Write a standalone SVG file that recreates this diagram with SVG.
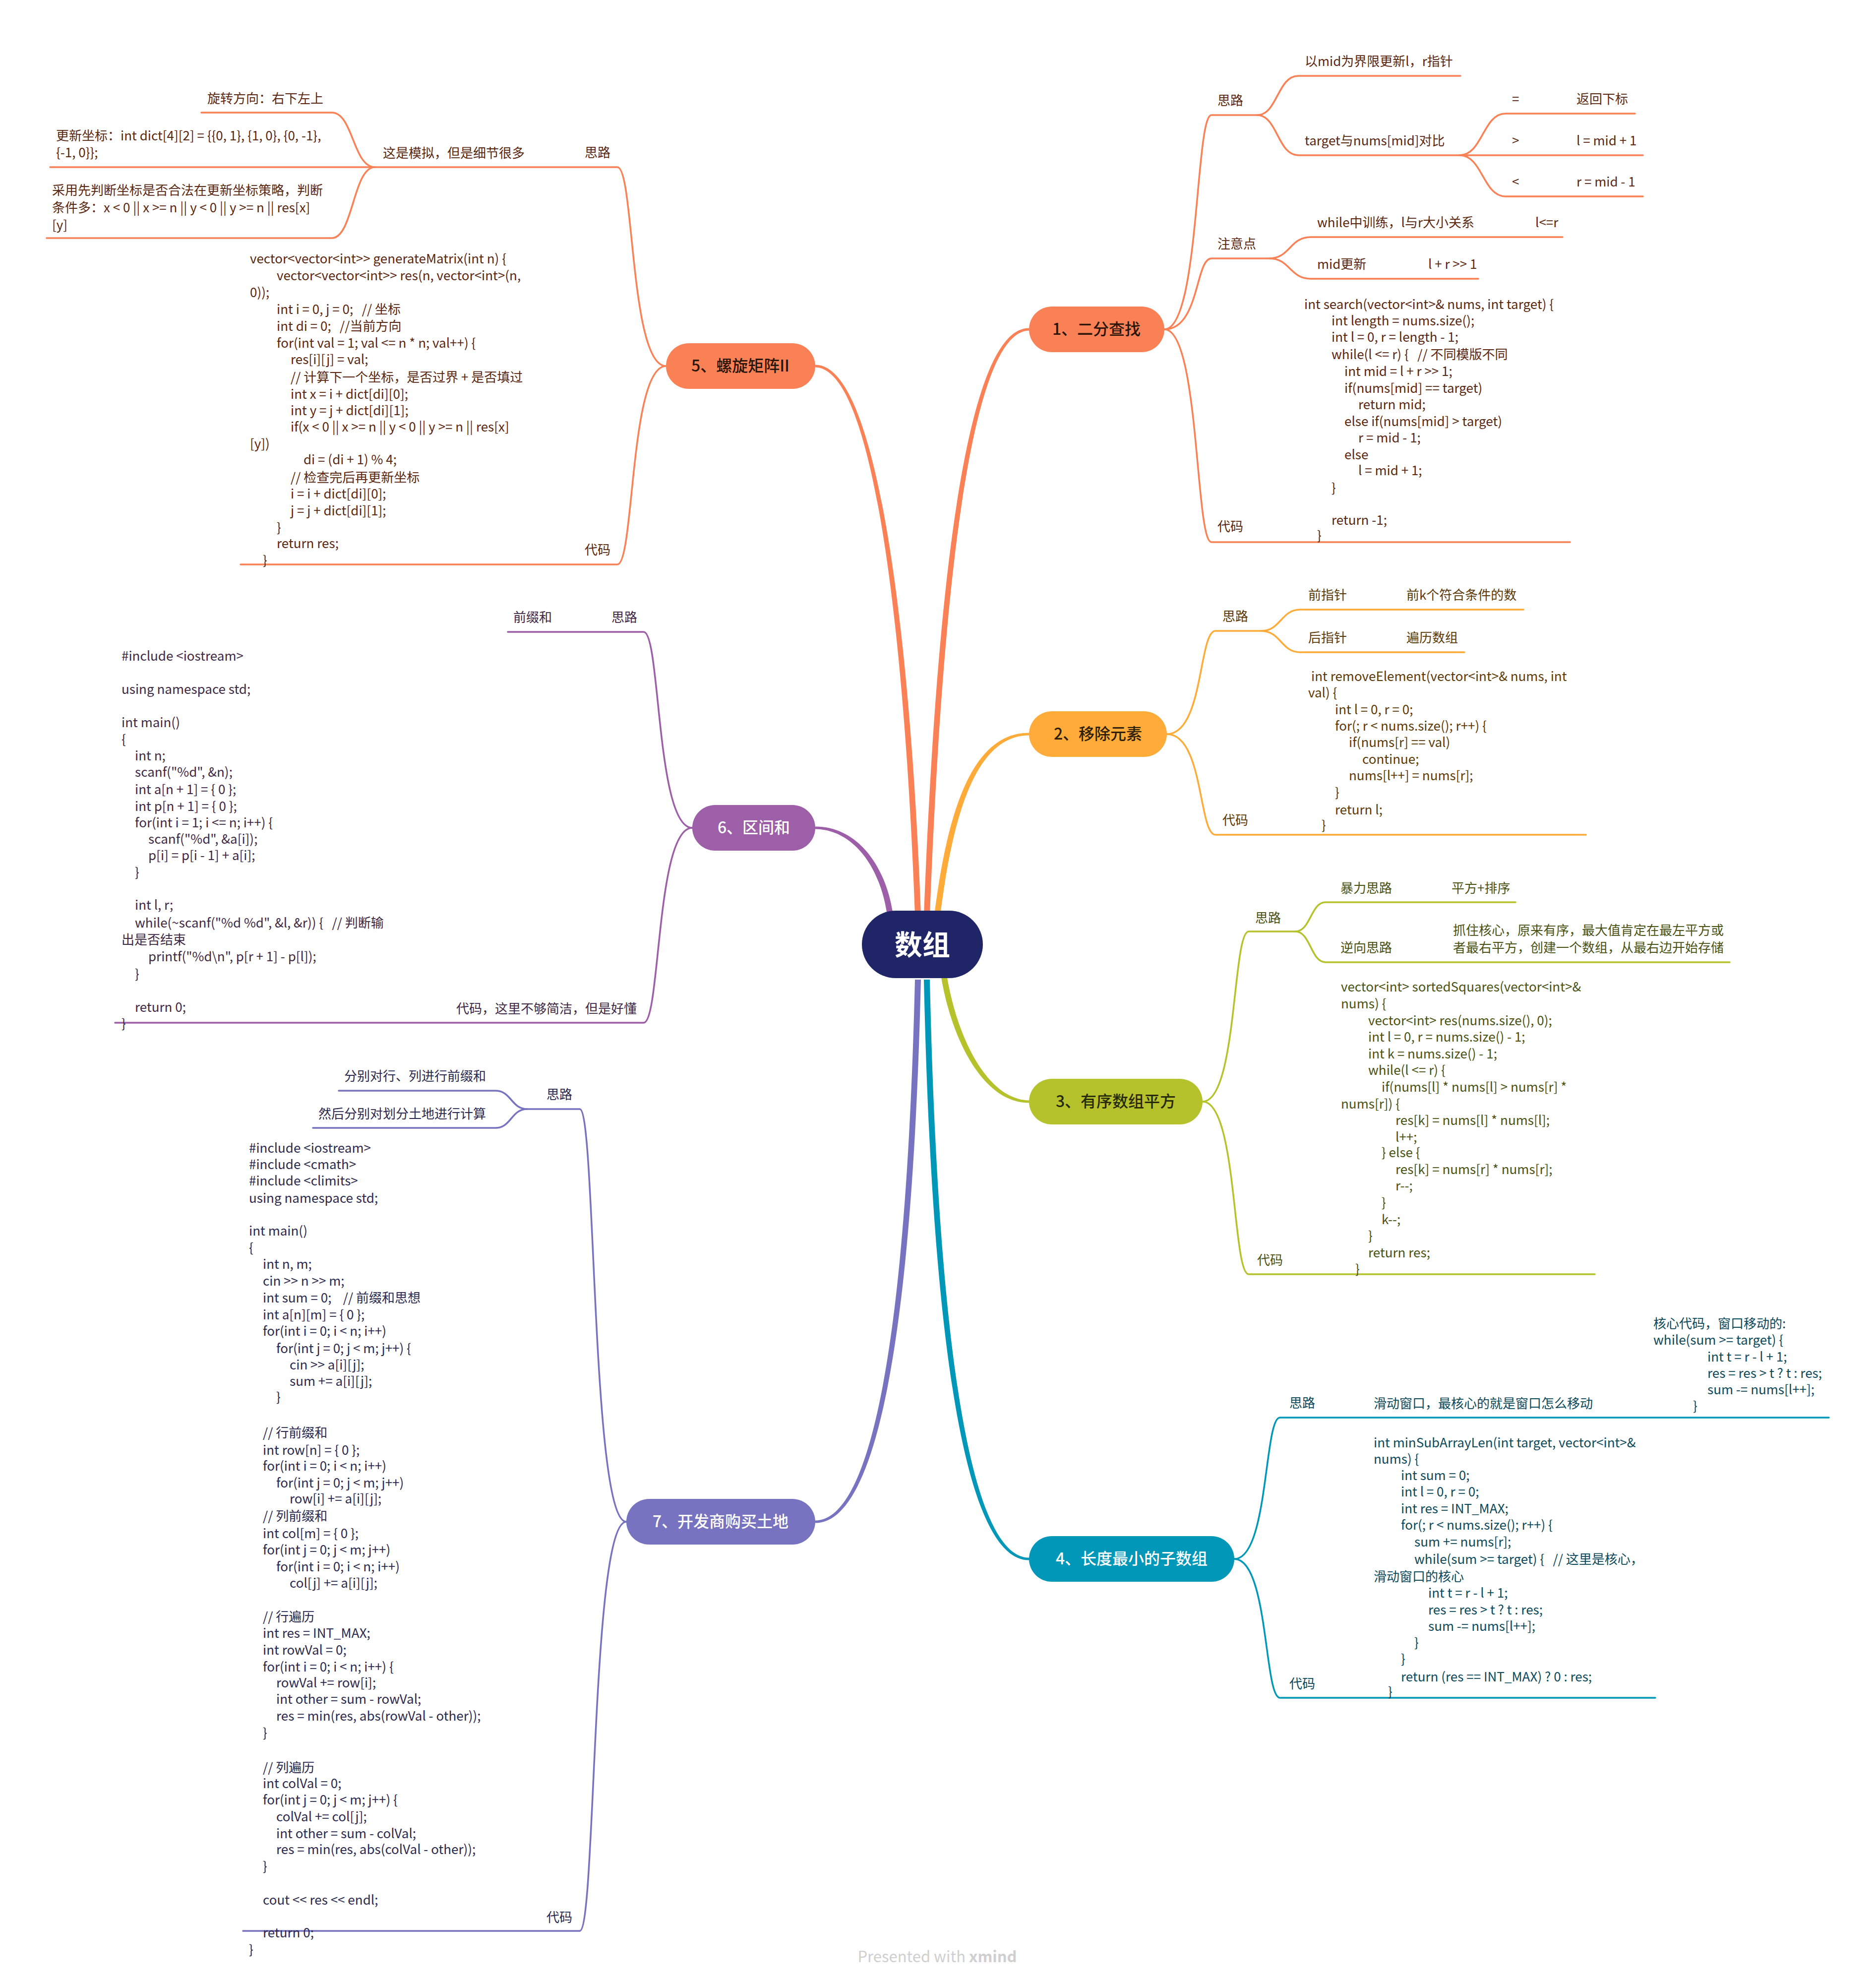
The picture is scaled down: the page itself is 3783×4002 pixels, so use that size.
<svg xmlns="http://www.w3.org/2000/svg" width="3783" height="4002" viewBox="0 0 3783 4002" xml:space="preserve">
<style>
text{font-family:"Noto Sans CJK SC","Noto Sans",sans-serif;font-size:26px;white-space:pre}
.ln{fill:none;stroke-width:3.5;stroke-linecap:round;stroke-linejoin:round}
.k1{stroke:#FA8155}.k2{stroke:#FEAB3A}.k3{stroke:#B5C22C}.k4{stroke:#0097B8}.k6{stroke:#9C5FA8}.k7{stroke:#7873C0}
.t1 text{fill:#5A2812}.t2 text{fill:#5C3A08}.t3 text{fill:#4A5213}.t4 text{fill:#0C4A5C}.t6 text{fill:#3E2946}.t7 text{fill:#2C2A50}
.nt{font-size:32px;font-weight:500;text-anchor:middle}
.rt{font-size:56px;font-weight:700;text-anchor:middle;fill:#FFFFFF}
.wm{font-size:31px;text-anchor:middle;fill:#CFCFCF}
</style>
<g id="connectors">
<path fill="#FA8155" d="M1863,1845 C1884,1300 1935,660 2075,661.5 L2075,666.5 C1945,668 1896,1300 1875,1845 Z"/>
<path fill="#FA8155" d="M1845,1845 C1829,1400 1776,742 1644,740.5 L1644,735.5 C1784,734 1841,1400 1857,1845 Z"/>
<path fill="#FEAB3A" d="M1884,1845 C1909,1650 1955,1477 2075,1477.5 L2075,1482.5 C1965,1483 1921,1650 1896,1845 Z"/>
<path fill="#9C5FA8" d="M1789,1845 C1774,1740 1715,1672 1644,1671.5 L1644,1666.5 C1725,1666 1786,1740 1801,1845 Z"/>
<path fill="#B5C22C" d="M1909,1965 C1931,2100 1995,2218 2075,2218.5 L2075,2223.5 C1985,2224 1919,2100 1897,1965 Z"/>
<path fill="#0097B8" d="M1875,1975 C1891,2700 1955,3140 2075,3140.5 L2075,3145.5 C1945,3146 1879,2700 1863,1975 Z"/>
<path fill="#7873C0" d="M1857,1975 C1841,2650 1775,3071 1644,3070.5 L1644,3065.5 C1765,3065 1829,2650 1845,1975 Z"/>
<path class="ln k1" d="M2348,664 C2419,664 2410,232 2443,232 H2535"/>
<path class="ln k1" d="M2535,232 C2576,232 2576,153 2618,153 H2945"/>
<path class="ln k1" d="M2535,232 C2576,232 2576,313 2618,313 H3313"/>
<path class="ln k1" d="M2943,313 C2990,313 2990,229 3036,229 H3297"/>
<path class="ln k1" d="M2943,313 C2990,313 2990,396 3036,396 H3313"/>
<path class="ln k1" d="M2348,664 C2419,664 2410,521 2443,521 H2560"/>
<path class="ln k1" d="M2560,521 C2601,521 2601,478 2643,478 H3151"/>
<path class="ln k1" d="M2560,521 C2601,521 2601,562 2643,562 H2981"/>
<path class="ln k1" d="M2348,664 C2419,664 2410,1093 2443,1093 H3166"/>
<path class="ln k2" d="M2353,1480 C2427,1480 2417,1272 2451,1272 H2543"/>
<path class="ln k2" d="M2543,1272 C2583,1272 2583,1229 2622,1229 H3072"/>
<path class="ln k2" d="M2543,1272 C2583,1272 2583,1315 2622,1315 H2953"/>
<path class="ln k2" d="M2353,1480 C2427,1480 2417,1683 2451,1683 H3198"/>
<path class="ln k3" d="M2425,2221 C2495,2221 2485,1878 2518,1878 H2612"/>
<path class="ln k3" d="M2612,1878 C2643,1878 2643,1819 2673,1819 H3056"/>
<path class="ln k3" d="M2612,1878 C2643,1878 2643,1940 2673,1940 H3488"/>
<path class="ln k3" d="M2425,2221 C2495,2221 2485,2569 2518,2569 H3216"/>
<path class="ln k4" d="M2489,3143 C2558,3143 2549,2858 2581,2858 H3688"/>
<path class="ln k4" d="M2489,3143 C2558,3143 2549,3423 2581,3423 H3338"/>
<path class="ln k1" d="M1343,738 C1270,738 1279,337 1245,337 H756"/>
<path class="ln k1" d="M756,337 C712,337 712,227 669,227 H406"/>
<path class="ln k1" d="M756,337 H101"/>
<path class="ln k1" d="M756,337 C712,337 712,480 669,480 H94"/>
<path class="ln k1" d="M1343,738 C1270,738 1279,1138 1245,1138 H485"/>
<path class="ln k6" d="M1396,1669 C1323,1669 1332,1274 1298,1274 H1024"/>
<path class="ln k6" d="M1396,1669 C1323,1669 1332,2062 1298,2062 H232"/>
<path class="ln k7" d="M1263,3068 C1192,3068 1202,2236 1169,2236 H1063"/>
<path class="ln k7" d="M1063,2236 C1031,2236 1031,2199 999,2199 H683"/>
<path class="ln k7" d="M1063,2236 C1031,2236 1031,2274 999,2274 H631"/>
<path class="ln k7" d="M1263,3068 C1192,3068 1202,3893 1169,3893 H490"/>
</g>
<g id="root">
<rect x="1738" y="1836" width="244" height="136" rx="68" fill="#1F2566"/>
<text class="rt" x="1860" y="1925">数组</text>
</g>
<g id="topic1"><rect x="2075" y="618" width="273" height="92" rx="46" fill="#FA8155"/><text class="nt" x="2211" y="675" fill="#2A1508">1、二分查找</text></g>
<g id="topic2"><rect x="2075" y="1434" width="278" height="92" rx="46" fill="#FEAB3A"/><text class="nt" x="2214" y="1491" fill="#2E1E05">2、移除元素</text></g>
<g id="topic3"><rect x="2075" y="2175" width="350" height="92" rx="46" fill="#B5C22C"/><text class="nt" x="2250" y="2232" fill="#262A08">3、有序数组平方</text></g>
<g id="topic4"><rect x="2075" y="3097" width="414" height="92" rx="46" fill="#0097B8"/><text class="nt" x="2282" y="3154" fill="#FFFFFF">4、长度最小的子数组</text></g>
<g id="topic5"><rect x="1343" y="692" width="301" height="92" rx="46" fill="#FA8155"/><text class="nt" x="1493" y="749" fill="#2A1508">5、螺旋矩阵II</text></g>
<g id="topic6"><rect x="1396" y="1623" width="248" height="92" rx="46" fill="#9C5FA8"/><text class="nt" x="1520" y="1680" fill="#FFFFFF">6、区间和</text></g>
<g id="topic7"><rect x="1263" y="3022" width="381" height="92" rx="46" fill="#7873C0"/><text class="nt" x="1453" y="3079" fill="#FFFFFF">7、开发商购买土地</text></g>

<g class="t1">
<g id="b1-silu"><text x="2455" y="212">思路</text></g>
<g id="b1-mid"><text x="2631" y="133">以mid为界限更新l，r指针</text></g>
<g id="b1-target"><text x="2631" y="293">target与nums[mid]对比</text></g>
<g id="b1-eq"><text x="3049" y="209">=</text><text x="3179" y="209">返回下标</text></g>
<g id="b1-gt"><text x="3049" y="293">&gt;</text><text x="3179" y="293">l = mid + 1</text></g>
<g id="b1-lt"><text x="3049" y="376">&lt;</text><text x="3179" y="376">r = mid - 1</text></g>
<g id="b1-note"><text x="2455" y="501">注意点</text></g>
<g id="b1-while"><text x="2656" y="458">while中训练，l与r大小关系</text><text x="3096" y="458">l&lt;=r</text></g>
<g id="b1-midup"><text x="2656" y="542">mid更新</text><text x="2880" y="542">l + r &gt;&gt; 1</text></g>
<g id="b1-code-label"><text x="2455" y="1071">代码</text></g>
<g id="b1-code">
<text x="2630" y="623">int search(vector&lt;int&gt;&amp; nums, int target) {</text>
<text x="2685" y="656">int length = nums.size();</text>
<text x="2685" y="689">int l = 0, r = length - 1;</text>
<text x="2685" y="724">while(l &lt;= r) {   // 不同模版不同</text>
<text x="2711" y="758">int mid = l + r &gt;&gt; 1;</text>
<text x="2711" y="792">if(nums[mid] == target)</text>
<text x="2739" y="825">return mid;</text>
<text x="2711" y="859">else if(nums[mid] &gt; target)</text>
<text x="2739" y="892">r = mid - 1;</text>
<text x="2711" y="926">else</text>
<text x="2739" y="958">l = mid + 1;</text>
<text x="2685" y="993">}</text>
<text x="2685" y="1058">return -1;</text>
<text x="2656" y="1089">}</text>
</g>
</g>

<g class="t2">
<g id="b2-silu"><text x="2465" y="1252">思路</text></g>
<g id="b2-front"><text x="2638" y="1209">前指针</text><text x="2836" y="1209">前k个符合条件的数</text></g>
<g id="b2-back"><text x="2638" y="1295">后指针</text><text x="2836" y="1295">遍历数组</text></g>
<g id="b2-code-label"><text x="2465" y="1663">代码</text></g>
<g id="b2-code">
<text x="2644" y="1373">int removeElement(vector&lt;int&gt;&amp; nums, int</text>
<text x="2638" y="1406">val) {</text>
<text x="2692" y="1440">int l = 0, r = 0;</text>
<text x="2692" y="1473">for(; r &lt; nums.size(); r++) {</text>
<text x="2720" y="1506">if(nums[r] == val)</text>
<text x="2747" y="1540">continue;</text>
<text x="2720" y="1573">nums[l++] = nums[r];</text>
<text x="2692" y="1607">}</text>
<text x="2692" y="1642">return l;</text>
<text x="2665" y="1673">}</text>
</g>
</g>

<g class="t3">
<g id="b3-silu"><text x="2531" y="1860">思路</text></g>
<g id="b3-brute"><text x="2703" y="1800">暴力思路</text><text x="2927" y="1800">平方+排序</text></g>
<g id="b3-reverse"><text x="2703" y="1920">逆向思路</text><text x="2930" y="1885">抓住核心，原来有序，最大值肯定在最左平方或</text><text x="2930" y="1920">者最右平方，创建一个数组，从最右边开始存储</text></g>
<g id="b3-code-label"><text x="2535" y="2550">代码</text></g>
<g id="b3-code">
<text x="2704" y="1999">vector&lt;int&gt; sortedSquares(vector&lt;int&gt;&amp;</text>
<text x="2704" y="2033">nums) {</text>
<text x="2759" y="2067">vector&lt;int&gt; res(nums.size(), 0);</text>
<text x="2759" y="2100">int l = 0, r = nums.size() - 1;</text>
<text x="2759" y="2134">int k = nums.size() - 1;</text>
<text x="2759" y="2167">while(l &lt;= r) {</text>
<text x="2786" y="2201">if(nums[l] * nums[l] &gt; nums[r] *</text>
<text x="2704" y="2235">nums[r]) {</text>
<text x="2814" y="2268">res[k] = nums[l] * nums[l];</text>
<text x="2814" y="2302">l++;</text>
<text x="2786" y="2333">} else {</text>
<text x="2814" y="2367">res[k] = nums[r] * nums[r];</text>
<text x="2814" y="2400">r--;</text>
<text x="2786" y="2434">}</text>
<text x="2786" y="2468">k--;</text>
<text x="2759" y="2501">}</text>
<text x="2759" y="2535">return res;</text>
<text x="2733" y="2568">}</text>
</g>
</g>

<g class="t4">
<g id="b4-silu"><text x="2600" y="2838">思路</text></g>
<g id="b4-window"><text x="2770" y="2839">滑动窗口，最核心的就是窗口怎么移动</text></g>
<g id="b4-core">
<text x="3334" y="2678">核心代码，窗口移动的:</text>
<text x="3334" y="2711">while(sum &gt;= target) {</text>
<text x="3443" y="2745">int t = r - l + 1;</text>
<text x="3443" y="2778">res = res &gt; t ? t : res;</text>
<text x="3443" y="2811">sum -= nums[l++];</text>
<text x="3414" y="2844">}</text>
</g>
<g id="b4-code-label"><text x="2600" y="3404">代码</text></g>
<g id="b4-code">
<text x="2770" y="2918">int minSubArrayLen(int target, vector&lt;int&gt;&amp;</text>
<text x="2770" y="2951">nums) {</text>
<text x="2825" y="2984">int sum = 0;</text>
<text x="2825" y="3017">int l = 0, r = 0;</text>
<text x="2825" y="3051">int res = INT_MAX;</text>
<text x="2825" y="3084">for(; r &lt; nums.size(); r++) {</text>
<text x="2852" y="3118">sum += nums[r];</text>
<text x="2852" y="3153">while(sum &gt;= target) {   // 这里是核心，</text>
<text x="2770" y="3188">滑动窗口的核心</text>
<text x="2880" y="3221">int t = r - l + 1;</text>
<text x="2880" y="3255">res = res &gt; t ? t : res;</text>
<text x="2880" y="3288">sum -= nums[l++];</text>
<text x="2852" y="3321">}</text>
<text x="2825" y="3354">}</text>
<text x="2825" y="3390">return (res == INT_MAX) ? 0 : res;</text>
<text x="2799" y="3420">}</text>
</g>
</g>

<g class="t1">
<g id="b5-silu"><text x="1179" y="317">思路</text></g>
<g id="b5-sim"><text x="1058" y="318" text-anchor="end">这是模拟，但是细节很多</text></g>
<g id="b5-dir"><text x="652" y="208" text-anchor="end">旋转方向：右下左上</text></g>
<g id="b5-dict"><text x="113" y="283">更新坐标：int dict[4][2] = {{0, 1}, {1, 0}, {0, -1},</text><text x="113" y="317">{-1, 0}};</text></g>
<g id="b5-check"><text x="105" y="393">采用先判断坐标是否合法在更新坐标策略，判断</text><text x="105" y="428">条件多：x &lt; 0 || x &gt;= n || y &lt; 0 || y &gt;= n || res[x]</text><text x="105" y="463">[y]</text></g>
<g id="b5-code-label"><text x="1179" y="1118">代码</text></g>
<g id="b5-code">
<text x="504" y="531">vector&lt;vector&lt;int&gt;&gt; generateMatrix(int n) {</text>
<text x="558" y="565">vector&lt;vector&lt;int&gt;&gt; res(n, vector&lt;int&gt;(n,</text>
<text x="504" y="599">0));</text>
<text x="558" y="633">int i = 0, j = 0;   // 坐标</text>
<text x="558" y="667">int di = 0;   //当前方向</text>
<text x="558" y="701">for(int val = 1; val &lt;= n * n; val++) {</text>
<text x="586" y="734">res[i][j] = val;</text>
<text x="586" y="770">// 计算下一个坐标，是否过界 + 是否填过</text>
<text x="586" y="804">int x = i + dict[di][0];</text>
<text x="586" y="837">int y = j + dict[di][1];</text>
<text x="586" y="870">if(x &lt; 0 || x &gt;= n || y &lt; 0 || y &gt;= n || res[x]</text>
<text x="504" y="904">[y])</text>
<text x="612" y="936">di = (di + 1) % 4;</text>
<text x="586" y="972">// 检查完后再更新坐标</text>
<text x="586" y="1005">i = i + dict[di][0];</text>
<text x="586" y="1039">j = j + dict[di][1];</text>
<text x="558" y="1073">}</text>
<text x="558" y="1105">return res;</text>
<text x="530" y="1139">}</text>
</g>
</g>

<g class="t6">
<g id="b6-silu"><text x="1035" y="1254">前缀和</text><text x="1233" y="1254">思路</text></g>
<g id="b6-code-label"><text x="1284" y="2043" text-anchor="end">代码，这里不够简洁，但是好懂</text></g>
<g id="b6-code">
<text x="245" y="1332">#include &lt;iostream&gt;</text>
<text x="245" y="1399">using namespace std;</text>
<text x="245" y="1466">int main()</text>
<text x="245" y="1500">{</text>
<text x="272" y="1533">int n;</text>
<text x="272" y="1566">scanf("%d", &amp;n);</text>
<text x="272" y="1601">int a[n + 1] = { 0 };</text>
<text x="272" y="1635">int p[n + 1] = { 0 };</text>
<text x="272" y="1668">for(int i = 1; i &lt;= n; i++) {</text>
<text x="299" y="1701">scanf("%d", &amp;a[i]);</text>
<text x="299" y="1734">p[i] = p[i - 1] + a[i];</text>
<text x="272" y="1768">}</text>
<text x="272" y="1834">int l, r;</text>
<text x="272" y="1870">while(~scanf("%d %d", &amp;l, &amp;r)) {   // 判断输</text>
<text x="245" y="1904">出是否结束</text>
<text x="299" y="1938">printf("%d\n", p[r + 1] - p[l]);</text>
<text x="272" y="1973">}</text>
<text x="272" y="2040">return 0;</text>
<text x="245" y="2073">}</text>
</g>
</g>

<g class="t7">
<g id="b7-silu"><text x="1102" y="2216">思路</text></g>
<g id="b7-rowcol"><text x="980" y="2179" text-anchor="end">分别对行、列进行前缀和</text></g>
<g id="b7-calc"><text x="980" y="2255" text-anchor="end">然后分别对划分土地进行计算</text></g>
<g id="b7-code-label"><text x="1102" y="3875">代码</text></g>
<g id="b7-code">
<text x="502" y="2324">#include &lt;iostream&gt;</text>
<text x="502" y="2357">#include &lt;cmath&gt;</text>
<text x="502" y="2390">#include &lt;climits&gt;</text>
<text x="502" y="2425">using namespace std;</text>
<text x="502" y="2491">int main()</text>
<text x="502" y="2525">{</text>
<text x="530" y="2558">int n, m;</text>
<text x="530" y="2592">cin &gt;&gt; n &gt;&gt; m;</text>
<text x="530" y="2626">int sum = 0;    // 前缀和思想</text>
<text x="530" y="2660">int a[n][m] = { 0 };</text>
<text x="530" y="2693">for(int i = 0; i &lt; n; i++)</text>
<text x="557" y="2728">for(int j = 0; j &lt; m; j++) {</text>
<text x="584" y="2761">cin &gt;&gt; a[i][j];</text>
<text x="584" y="2794">sum += a[i][j];</text>
<text x="557" y="2826">}</text>
<text x="530" y="2898">// 行前缀和</text>
<text x="530" y="2933">int row[n] = { 0 };</text>
<text x="530" y="2965">for(int i = 0; i &lt; n; i++)</text>
<text x="557" y="2999">for(int j = 0; j &lt; m; j++)</text>
<text x="584" y="3031">row[i] += a[i][j];</text>
<text x="530" y="3066">// 列前缀和</text>
<text x="530" y="3101">int col[m] = { 0 };</text>
<text x="530" y="3134">for(int j = 0; j &lt; m; j++)</text>
<text x="557" y="3168">for(int i = 0; i &lt; n; i++)</text>
<text x="584" y="3201">col[j] += a[i][j];</text>
<text x="530" y="3269">// 行遍历</text>
<text x="530" y="3302">int res = INT_MAX;</text>
<text x="530" y="3336">int rowVal = 0;</text>
<text x="530" y="3370">for(int i = 0; i &lt; n; i++) {</text>
<text x="557" y="3402">rowVal += row[i];</text>
<text x="557" y="3435">int other = sum - rowVal;</text>
<text x="557" y="3469">res = min(res, abs(rowVal - other));</text>
<text x="530" y="3503">}</text>
<text x="530" y="3573">// 列遍历</text>
<text x="530" y="3605">int colVal = 0;</text>
<text x="530" y="3638">for(int j = 0; j &lt; m; j++) {</text>
<text x="557" y="3672">colVal += col[j];</text>
<text x="557" y="3706">int other = sum - colVal;</text>
<text x="557" y="3738">res = min(res, abs(colVal - other));</text>
<text x="530" y="3772">}</text>
<text x="530" y="3840">cout &lt;&lt; res &lt;&lt; endl;</text>
<text x="530" y="3906">return 0;</text>
<text x="502" y="3940">}</text>
</g>
</g>

<g id="watermark"><text class="wm" x="1890" y="3956">Presented with <tspan font-weight="700">xmind</tspan></text></g>
</svg>
